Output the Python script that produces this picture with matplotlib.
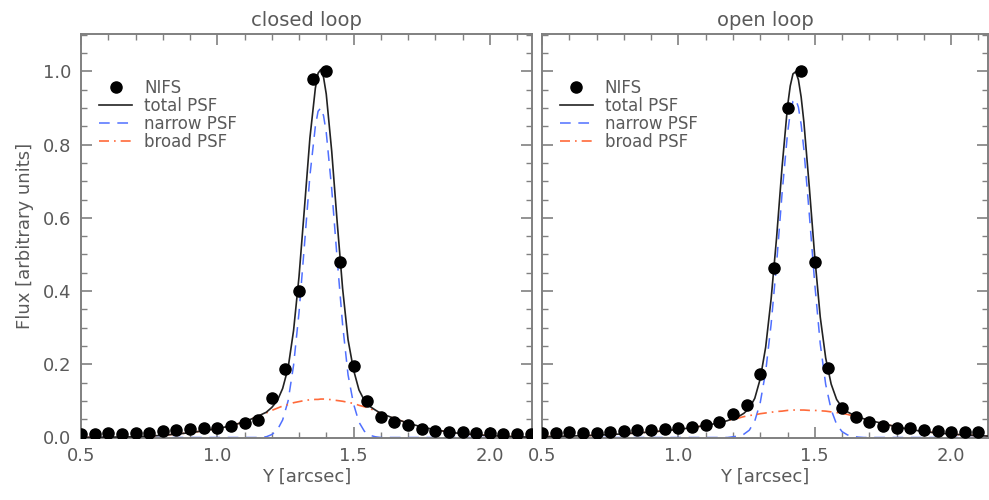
import matplotlib
matplotlib.use("Agg")
import matplotlib.pyplot as plt
from matplotlib.ticker import MultipleLocator

# NIFS measurements, one every 0.05 arcsec
closed_pts_x = [0.50, 0.55, 0.60, 0.65, 0.70, 0.75, 0.80, 0.85, 0.90, 0.95,
                1.00, 1.05, 1.10, 1.15, 1.20, 1.25, 1.30, 1.35, 1.40, 1.45,
                1.50, 1.55, 1.60, 1.65, 1.70, 1.75, 1.80, 1.85, 1.90, 1.95,
                2.00, 2.05, 2.10, 2.15]
closed_pts_flux = [0.010, 0.010, 0.012, 0.010, 0.012, 0.013, 0.017, 0.021, 0.022, 0.026,
                   0.027, 0.032, 0.039, 0.048, 0.108, 0.187, 0.400, 0.980, 1.000, 0.478,
                   0.194, 0.099, 0.057, 0.041, 0.033, 0.023, 0.019, 0.016, 0.014, 0.012,
                   0.011, 0.010, 0.010, 0.010]

open_pts_x = [0.50, 0.55, 0.60, 0.65, 0.70, 0.75, 0.80, 0.85, 0.90, 0.95,
              1.00, 1.05, 1.10, 1.15, 1.20, 1.25, 1.30, 1.35, 1.40, 1.45,
              1.50, 1.55, 1.60, 1.65, 1.70, 1.75, 1.80, 1.85, 1.90, 1.95,
              2.00, 2.05, 2.10]
open_pts_flux = [0.011, 0.011, 0.014, 0.012, 0.013, 0.014, 0.018, 0.020, 0.020, 0.023,
                 0.025, 0.029, 0.034, 0.041, 0.064, 0.090, 0.173, 0.463, 0.900, 1.000,
                 0.478, 0.189, 0.081, 0.056, 0.043, 0.032, 0.027, 0.025, 0.020, 0.017,
                 0.015, 0.014, 0.014]

# fitted PSF curves (closed loop)
closed_x = [0.50, 0.60, 0.70, 0.80, 0.90, 1.00, 1.05, 1.10, 1.15,
            1.16, 1.18, 1.20, 1.22, 1.24, 1.26, 1.28, 1.30, 1.32, 1.34, 1.36,
            1.37, 1.38, 1.39, 1.40, 1.42, 1.44, 1.46, 1.48, 1.50, 1.52, 1.54,
            1.56, 1.58, 1.60,
            1.65, 1.70, 1.75, 1.80, 1.85, 1.90, 2.00, 2.10, 2.155]
closed_total = [0.000, 0.001, 0.002, 0.006, 0.013, 0.024, 0.032, 0.043, 0.058,
                0.062, 0.069, 0.082, 0.100, 0.134, 0.190, 0.292, 0.439, 0.627, 0.818, 0.954,
                0.995, 1.005, 0.984, 0.938, 0.782, 0.589, 0.407, 0.267, 0.185, 0.130, 0.101,
                0.085, 0.075, 0.066,
                0.052, 0.039, 0.029, 0.021, 0.015, 0.010, 0.005, 0.002, 0.001]
closed_narrow = [0, 0, 0, 0, 0, 0, 0, 0, 0,
                 0.001, 0.002, 0.008, 0.020, 0.048, 0.100, 0.197, 0.341, 0.526, 0.715, 0.850,
                 0.891, 0.900, 0.879, 0.833, 0.679, 0.488, 0.308, 0.171, 0.092, 0.042, 0.017,
                 0.006, 0.002, 0.000,
                 0, 0, 0, 0, 0, 0, 0, 0, 0]
closed_broad = [0.000, 0.001, 0.002, 0.006, 0.013, 0.024, 0.032, 0.043, 0.058,
                0.061, 0.067, 0.074, 0.080, 0.086, 0.090, 0.095, 0.098, 0.101, 0.103, 0.104,
                0.104, 0.105, 0.105, 0.105, 0.103, 0.101, 0.099, 0.096, 0.093, 0.088, 0.084,
                0.079, 0.073, 0.066,
                0.052, 0.039, 0.029, 0.021, 0.015, 0.010, 0.005, 0.002, 0.001]

# fitted PSF curves (open loop)
open_x = [0.50, 0.60, 0.70, 0.80, 0.90, 1.00, 1.05, 1.10, 1.15,
          1.18, 1.20, 1.22, 1.24, 1.26, 1.28, 1.30, 1.32, 1.34, 1.36, 1.38,
          1.40, 1.41, 1.42, 1.43, 1.44, 1.45, 1.46, 1.48, 1.50, 1.52, 1.54,
          1.56, 1.58, 1.60, 1.62, 1.64, 1.66, 1.68,
          1.70, 1.75, 1.80, 1.85, 1.90, 2.00, 2.10, 2.135]
open_total = [0.002, 0.004, 0.006, 0.010, 0.015, 0.022, 0.027, 0.033, 0.040,
              0.046, 0.052, 0.057, 0.066, 0.080, 0.107, 0.160, 0.247, 0.379, 0.546, 0.738,
              0.904, 0.960, 0.993, 0.999, 0.977, 0.930, 0.862, 0.683, 0.493, 0.329, 0.217,
              0.146, 0.104, 0.082, 0.070, 0.062, 0.056, 0.051,
              0.047, 0.038, 0.029, 0.022, 0.016, 0.009, 0.005, 0.004]
open_narrow = [0, 0, 0, 0, 0, 0, 0, 0, 0,
               0.000, 0.002, 0.004, 0.009, 0.020, 0.045, 0.095, 0.180, 0.310, 0.475, 0.666,
               0.830, 0.886, 0.918, 0.924, 0.902, 0.855, 0.787, 0.609, 0.419, 0.256, 0.145,
               0.076, 0.036, 0.016, 0.007, 0.003, 0.001, 0.000,
               0, 0, 0, 0, 0, 0, 0, 0]
open_broad = [0.002, 0.004, 0.006, 0.010, 0.015, 0.022, 0.027, 0.033, 0.040,
              0.046, 0.050, 0.053, 0.057, 0.060, 0.062, 0.065, 0.067, 0.069, 0.071, 0.072,
              0.074, 0.074, 0.075, 0.075, 0.075, 0.075, 0.075, 0.074, 0.074, 0.073, 0.072,
              0.070, 0.068, 0.066, 0.063, 0.059, 0.055, 0.051,
              0.047, 0.038, 0.029, 0.022, 0.016, 0.009, 0.005, 0.004]

TEXT_GREY = '#5a5a5a'
AXIS_GREY = '#808080'


def draw_panel(ax, title, pts_x, pts_flux, cx, total, narrow, broad, xmax, ylabels):
    ax.plot(pts_x, pts_flux, 'o', color='black', markersize=8, label='NIFS', zorder=4)
    ax.plot(cx, total, '-', color='#222222', lw=1.2, label='total PSF', zorder=3)
    ax.plot(cx, narrow, '--', color='#5070ff', lw=1.1, dashes=(7, 5), label='narrow PSF')
    ax.plot(cx, broad, '-.', color='#ff6a3a', lw=1.2, dashes=(6, 3, 1, 3), label='broad PSF')

    ax.set_xlim(0.5, xmax)
    ax.set_ylim(0.0, 1.102)
    ax.xaxis.set_major_locator(MultipleLocator(0.5))
    ax.xaxis.set_minor_locator(MultipleLocator(0.1))
    ax.yaxis.set_major_locator(MultipleLocator(0.2))
    ax.yaxis.set_minor_locator(MultipleLocator(0.05))
    ax.xaxis.set_major_formatter(plt.FormatStrFormatter('%.1f'))
    ax.yaxis.set_major_formatter(plt.FormatStrFormatter('%.1f'))
    ax.tick_params(which='both', direction='in', top=True, right=True,
                   colors=AXIS_GREY, labelcolor=TEXT_GREY, labelsize=13)
    ax.tick_params(which='major', length=8, width=1.2, pad=7)
    ax.tick_params(which='minor', length=4.5, width=1.0)
    if not ylabels:
        ax.tick_params(labelleft=False)
    for s in ax.spines.values():
        s.set_color(AXIS_GREY)
        s.set_linewidth(1.4)

    ax.set_title(title, fontsize=14, color=TEXT_GREY, pad=6)
    ax.set_xlabel('Y [arcsec]', fontsize=13, color=TEXT_GREY, labelpad=2)

    leg = ax.legend(loc='upper left', bbox_to_anchor=(0.025, 0.905), frameon=False,
                    fontsize=12, handlelength=2.0, handletextpad=0.7,
                    labelspacing=0.0, borderaxespad=0.0)
    for t in leg.get_texts():
        t.set_color(TEXT_GREY)


fig = plt.figure(figsize=(9.89, 5.0), dpi=100)
ax1 = fig.add_axes([81 / 989, 62.5 / 500, 451 / 989, 403.5 / 500])
ax2 = fig.add_axes([542 / 989, 62.5 / 500, 446 / 989, 403.5 / 500])

draw_panel(ax1, 'closed loop', closed_pts_x, closed_pts_flux,
           closed_x, closed_total, closed_narrow, closed_broad, 2.155, True)
draw_panel(ax2, 'open loop', open_pts_x, open_pts_flux,
           open_x, open_total, open_narrow, open_broad, 2.135, False)

ax1.set_ylabel('Flux [arbitrary units]', fontsize=13, color=TEXT_GREY, labelpad=6)

fig.savefig('out.png', dpi=100)
